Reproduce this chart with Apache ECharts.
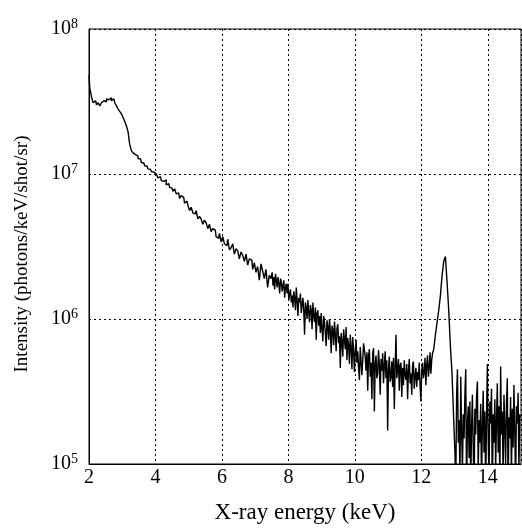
<!DOCTYPE html>
<html>
<head>
<meta charset="utf-8">
<script src="https://cdn.jsdelivr.net/npm/echarts@6/dist/echarts.min.js"></script>
<style>
  html, body { margin: 0; padding: 0; background: #fff; }
  #spectrum { width: 522px; height: 532px; }
</style>
</head>
<body>
<div id="spectrum"></div>
<script>
// bin energies (keV): 0.05 keV bins below 7.5 keV, 0.025 keV in the noisy parts
const energy = [
  2, 2.05, 2.1, 2.15, 2.2, 2.25, 2.3, 2.35, 2.4, 2.45, 2.5, 2.55, 2.6, 2.65, 2.7, 2.75, 2.8, 2.85, 2.9, 2.95,
  3, 3.05, 3.1, 3.15, 3.2, 3.25, 3.3, 3.35, 3.4, 3.45, 3.5, 3.55, 3.6, 3.65, 3.7, 3.75, 3.8, 3.85, 3.9, 3.95,
  4, 4.05, 4.1, 4.15, 4.2, 4.25, 4.3, 4.35, 4.4, 4.45, 4.5, 4.55, 4.6, 4.65, 4.7, 4.75, 4.8, 4.85, 4.9, 4.95,
  5, 5.05, 5.1, 5.15, 5.2, 5.25, 5.3, 5.35, 5.4, 5.45, 5.5, 5.55, 5.6, 5.65, 5.7, 5.75, 5.8, 5.85, 5.9, 5.95,
  6, 6.05, 6.1, 6.15, 6.2, 6.25, 6.3, 6.35, 6.4, 6.45, 6.5, 6.55, 6.6, 6.65, 6.7, 6.75, 6.8, 6.85, 6.9, 6.95,
  7, 7.05, 7.1, 7.15, 7.2, 7.25, 7.3, 7.35, 7.4, 7.45,
  7.5, 7.525, 7.55, 7.575, 7.6, 7.625, 7.65, 7.675, 7.7, 7.725, 7.75, 7.775, 7.8, 7.825, 7.85, 7.875, 7.9, 7.925, 7.95, 7.975,
  8, 8.025, 8.05, 8.075, 8.1, 8.125, 8.15, 8.175, 8.2, 8.225, 8.25, 8.275, 8.3, 8.325, 8.35, 8.375, 8.4, 8.425, 8.45, 8.475,
  8.5, 8.525, 8.55, 8.575, 8.6, 8.625, 8.65, 8.675, 8.7, 8.725, 8.75, 8.775, 8.8, 8.825, 8.85, 8.875, 8.9, 8.925, 8.95, 8.975,
  9, 9.025, 9.05, 9.075, 9.1, 9.125, 9.15, 9.175, 9.2, 9.225, 9.25, 9.275, 9.3, 9.325, 9.35, 9.375, 9.4, 9.425, 9.45, 9.475,
  9.5, 9.525, 9.55, 9.575, 9.6, 9.625, 9.65, 9.675, 9.7, 9.725, 9.75, 9.775, 9.8, 9.825, 9.85, 9.875, 9.9, 9.925, 9.95, 9.975,
  10, 10.025, 10.05, 10.075, 10.1, 10.125, 10.15, 10.175, 10.2, 10.225, 10.25, 10.275, 10.3, 10.325, 10.35, 10.375, 10.4, 10.425, 10.45, 10.475,
  10.5, 10.525, 10.55, 10.575, 10.6, 10.625, 10.65, 10.675, 10.7, 10.725, 10.75, 10.775, 10.8, 10.825, 10.85, 10.875, 10.9, 10.925, 10.95, 10.975,
  11, 11.025, 11.05, 11.075, 11.1, 11.125, 11.15, 11.175, 11.2, 11.225, 11.25, 11.275, 11.3, 11.325, 11.35, 11.375, 11.4, 11.425, 11.45, 11.475,
  11.5, 11.525, 11.55, 11.575, 11.6, 11.625, 11.65, 11.675, 11.7, 11.725, 11.75, 11.775, 11.8, 11.825, 11.85, 11.875, 11.9, 11.925, 11.95, 11.975,
  12, 12.025, 12.05, 12.075, 12.1, 12.125, 12.15, 12.175, 12.2, 12.225, 12.25, 12.275, 12.3, 12.325, 12.35,
  12.4, 12.45, 12.5, 12.55, 12.6, 12.65, 12.7, 12.75, 12.8, 12.85, 12.9, 12.95,
  13, 13.025, 13.05, 13.075, 13.1, 13.125, 13.15, 13.175, 13.2, 13.225, 13.25, 13.275, 13.3, 13.325, 13.35, 13.375, 13.4, 13.425, 13.45, 13.475,
  13.5, 13.525, 13.55, 13.575, 13.6, 13.625, 13.65, 13.675, 13.7, 13.725, 13.75, 13.775, 13.8, 13.825, 13.85, 13.875, 13.9, 13.925, 13.95, 13.975,
  14, 14.025, 14.05, 14.075, 14.1, 14.125, 14.15, 14.175, 14.2, 14.225, 14.25, 14.275, 14.3, 14.325, 14.35, 14.375, 14.4, 14.425, 14.45, 14.475,
  14.5, 14.525, 14.55, 14.575, 14.6, 14.625, 14.65, 14.675, 14.7, 14.725, 14.75, 14.775, 14.8, 14.825, 14.85, 14.875, 14.9, 14.925, 14.95, 14.975,
  15
]

// intensity (photons/keV/shot/sr)
const intensity = [
  4.8e7, 3.9e7, 3.4e7, 3.1e7, 3.2e7, 3.0e7, 3.1e7, 2.95e7, 3.1e7, 3.2e7, 3.15e7, 3.3e7, 3.25e7, 3.35e7, 3.2e7, 3.3e7, 3.1e7, 2.95e7, 2.8e7, 2.7e7,
  2.6e7, 2.45e7, 2.3e7, 2.15e7, 1.96e7, 1.6e7, 1.45e7, 1.4e7, 1.36e7, 1.33e7, 1.28e7, 1.27e7, 1.2e7, 1.19e7, 1.14e7, 1.13e7, 1.08e7, 1.08e7, 1.04e7, 1.03e7,
  1.0e7, 9.8e6, 9.4e6, 9.6e6, 9.0e6, 8.9e6, 9.1e6, 8.4e6, 8.6e6, 8.1e6, 8.0e6, 7.6e6, 7.9e6, 7.3e6, 7.4e6, 6.8e6, 7.1e6, 6.9e6, 6.3e6, 6.5e6,
  6.1e6, 5.6e6, 5.9e6, 5.4e6, 5.3e6, 5.6e6, 4.9e6, 5.1e6, 4.9e6, 4.5e6, 4.8e6, 4.6e6, 4.2e6, 4.5e6, 4.0e6, 4.2e6, 4.1e6, 3.7e6, 3.6e6, 3.9e6,
  3.4e6, 3.7e6, 3.3e6, 3.2e6, 3.55e6, 3.0e6, 3.1e6, 3.3e6, 2.8e6, 3.05e6, 2.95e6, 2.6e6, 2.9e6, 2.75e6, 2.5e6, 2.8e6, 2.35e6, 2.6e6, 2.55e6, 2.2e6,
  2.45e6, 2.1e6, 2.3e6, 1.85e6, 2.4e6, 2.15e6, 1.9e6, 2.2e6, 1.65e6, 2.0e6,
  1.9e6, 2.1e6, 1.7e6, 1.95e6, 1.6e6, 2.05e6, 1.85e6, 1.65e6, 1.95e6, 1.75e6, 1.5e6, 1.9e6, 1.8e6, 1.55e6, 1.7e6, 1.85e6, 1.4e6, 1.65e6, 1.75e6, 1.5e6,
  1.75e6, 1.35e6, 1.5e6, 1.6e6, 1.3e6, 1.45e6, 1.2e6, 1.55e6, 1.4e6, 1.15e6, 1.65e6, 1.35e6, 1.05e6, 1.4e6, 1.3e6, 1.5e6, 1.1e6, 1.25e6, 1.4e6, 1.15e6,
  7.8e5, 1.3e6, 1.2e6, 1.0e6, 1.35e6, 1.1e6, 9.5e5, 1.25e6, 1.15e6, 8.5e5, 1.3e6, 1.05e6, 9.5e5, 1.2e6, 7.2e5, 1.1e6, 1.15e6, 9.0e5, 1.05e6, 8.0e5,
  1.1e6, 8.5e5, 7.0e5, 1.05e6, 9.5e5, 8.0e5, 6.5e5, 9.8e5, 8.8e5, 7.2e5, 1.0e6, 8.2e5, 5.8e5, 9.0e5, 8.4e5, 6.6e5, 9.6e5, 7.8e5, 6.0e5, 8.6e5,
  9.2e5, 6.8e5, 7.6e5, 4.6e5, 8.0e5, 7.0e5, 5.5e5, 8.5e5, 7.2e5, 6.2e5, 8.8e5, 5.2e5, 7.4e5, 6.6e5, 4.9e5, 7.8e5, 6.4e5, 4.5e5, 7.5e5, 6.0e5,
  4.3e5, 6.1e5, 7.2e5, 5.0e5, 6.0e5, 4.6e5, 3.8e5, 6.4e5, 6.6e5, 4.1e5, 5.2e5, 6.8e5, 7.0e5, 5.5e5, 4.4e5, 5.9e5, 3.2e5, 5.6e5, 6.2e5, 4.0e5,
  5.0e5, 2.8e5, 5.8e5, 6.3e5, 2.3e5, 4.9e5, 5.6e5, 3.9e5, 4.2e5, 6.1e5, 4.8e5, 3.0e5, 5.3e5, 4.4e5, 5.8e5, 3.6e5, 4.7e5, 6.0e5, 3.9e5, 5.2e5,
  1.7e5, 4.5e5, 5.5e5, 3.7e5, 4.0e5, 5.1e5, 3.4e5, 5.4e5, 2.4e5, 4.6e5, 7.8e5, 3.9e5, 4.5e5, 5.3e5, 3.2e5, 4.8e5, 5.0e5, 2.9e5, 4.6e5, 3.5e5,
  5.2e5, 4.1e5, 3.8e5, 4.9e5, 2.8e5, 4.4e5, 5.3e5, 3.6e5, 4.2e5, 3.0e5, 4.8e5, 5.1e5, 3.3e5, 4.0e5, 4.6e5, 3.4e5, 4.3e5, 3.8e5, 5.0e5, 3.5e5,
  2.7e5, 4.4e5, 5.0e5, 3.9e5, 4.3e5, 5.4e5, 3.5e5, 4.8e5, 5.6e5, 4.0e5, 4.6e5, 5.9e5, 4.2e5, 5.2e5, 5.8e5,
  6.2e5, 7.8e5, 9.5e5, 1.15e6, 1.45e6, 2.0e6, 2.5e6, 2.7e6, 1.8e6, 1.15e6, 6.5e5, 4.2e5,
  2.0e5, 1.2e5, 7e4, 3.0e5, 4.5e5, 1.4e5, 2.0e5, 8e4, 4.0e5, 1.7e5, 9e4, 2.2e5, 1.5e5, 3.1e5, 4.5e5, 6e4, 1.9e5, 2.5e5, 1.1e5, 2.7e5,
  7e4, 1.8e5, 3.0e5, 1.3e5, 6e4, 2.4e5, 1.6e5, 2.9e5, 3.7e5, 9e4, 2.0e5, 1.4e5, 2.6e5, 7e4, 1.8e5, 3.2e5, 1.2e5, 2.3e5, 6e4, 2.1e5,
  4.9e5, 1.5e5, 8e4, 2.7e5, 1.9e5, 3.3e5, 6e4, 2.2e5, 1.4e5, 2.8e5, 9e4, 2.0e5, 3.6e5, 1.2e5, 2.5e5, 7e4, 4.7e5, 1.6e5, 2.3e5, 8e4,
  3.0e5, 1.8e5, 1.0e5, 2.6e5, 3.9e5, 6e4, 2.1e5, 1.5e5, 2.9e5, 8e4, 2.4e5, 1.3e5, 3.5e5, 1.7e5, 7e4, 2.5e5, 1.9e5, 3.1e5, 9e4, 2.2e5,
  2.1e5
]

const xRange = [2, 15]
const yRange = [1e5, 1e8]

const font = "'Liberation Serif', 'Times New Roman', serif"
const chart = echarts.init(document.getElementById('spectrum'))

const option = {
  animation: false,
  backgroundColor: '#fff',
  grid: {
    left: 89,
    right: 1,
    top: 29,
    bottom: 68,
    show: true,
    borderColor: '#000',
    borderWidth: 1
  },
  xAxis: {
    type: 'value',
    min: xRange[0],
    max: xRange[1],
    interval: 2,
    name: 'X-ray energy (keV)',
    nameLocation: 'middle',
    nameGap: 37,
    nameTextStyle: { fontFamily: font, fontSize: 23, color: '#000' },
    axisLine: { show: true, lineStyle: { color: '#000', width: 1 } },
    axisTick: { show: false },
    axisLabel: {
      margin: 4,
      fontFamily: font,
      fontSize: 20,
      color: '#000',
      showMaxLabel: false
    },
    splitLine: { show: true, lineStyle: { color: '#000', width: 1, type: [2, 3] } }
  },
  yAxis: {
    type: 'log',
    logBase: 10,
    min: yRange[0],
    max: yRange[1],
    name: 'Intensity (photons/keV/shot/sr)',
    nameLocation: 'middle',
    nameGap: 57,
    nameTextStyle: { fontFamily: font, fontSize: 19, color: '#000', padding: [0, 15, 0, 0] },
    axisLine: { show: true, lineStyle: { color: '#000', width: 1 } },
    axisTick: { show: false },
    minorTick: { show: false },
    axisLabel: {
      margin: 11,
      formatter: function (v) {
        return '{b|10}{s|' + Math.round(Math.log10(v)) + '}'
      },
      rich: {
        b: { fontFamily: font, fontSize: 20, color: '#000' },
        s: { fontFamily: font, fontSize: 14, color: '#000', verticalAlign: 'bottom', padding: [0, 0, 10, 0] }
      }
    },
    splitLine: { show: true, lineStyle: { color: '#000', width: 1, type: [2, 3] } }
  },
  series: [
    {
      type: 'line',
      step: 'middle',
      showSymbol: false,
      clip: true,
      lineStyle: { color: '#000', width: 1.4 },
      data: energy.map((e, i) => [e, intensity[i]])
    }
  ]
}

chart.setOption(option)
</script>
</body>
</html>
